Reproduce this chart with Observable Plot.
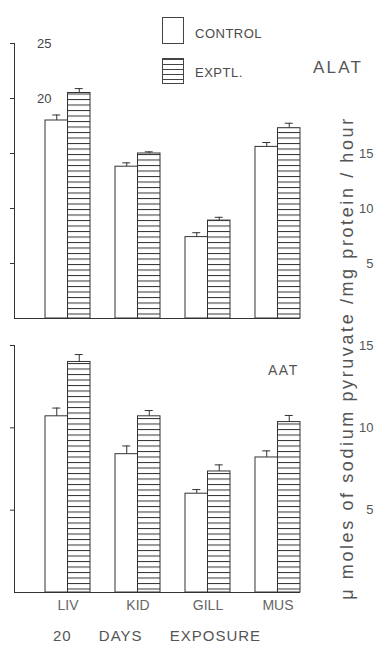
<!DOCTYPE html>
<html><head><meta charset="utf-8">
<script src="https://cdn.jsdelivr.net/npm/d3@7"></script>
<script src="https://cdn.jsdelivr.net/npm/@observablehq/plot@0.6"></script>
<style>
body{margin:0;background:#fff;}
#c{position:relative;width:374px;height:652px;overflow:hidden;font-family:"Liberation Sans",Arial,sans-serif;color:#4a4a4a;}
.abs{position:absolute;white-space:nowrap;line-height:1;}
.sw{position:absolute;box-sizing:border-box;border:1px solid #444;}
</style></head><body><div id="c"></div>
<script>
// ---- data ----
const tissues = ["LIV", "KID", "GILL", "MUS"];
const groups = ["CONTROL", "EXPTL."];
// ALAT panel
const alatControl    = [18.0, 13.8, 7.4, 15.6];
const alatControlErr = [0.5, 0.35, 0.4, 0.4];
const alatExptl      = [20.5, 15.0, 8.9, 17.3];
const alatExptlErr   = [0.4, 0.15, 0.3, 0.45];
// AAT panel
const aatControl     = [10.7, 8.4, 6.0, 8.2];
const aatControlErr  = [0.5, 0.5, 0.25, 0.4];
const aatExptl       = [14.0, 10.7, 7.35, 10.35];
const aatExptlErr    = [0.45, 0.35, 0.4, 0.4];
// tick labels
const alatLeftLabels  = [20, 25];
const alatTicks       = [5, 10, 15, 20, 25];
const alatRightLabels = [5, 10, 15];
const aatTicks        = [5, 10, 15];
const aatRightLabels  = [5, 10, 15];

function rows(vals, errs) {
  return tissues.map((t, i) => ({tissue: t, value: vals[i], err: errs[i], top: vals[i] + errs[i]}));
}

const W = 374, ML = 14, MR = 43, PI = 0.357, PO = 0.443;
const STEP = (W - ML - MR) / (tissues.length - PI + 2 * PO);
const BW = STEP * (1 - PI);
const INK = "#333";

function panel({ctrl, exp, yDomain, height, marginTop, marginBottom, ticks, rightLabels, leftLabels, showX, hatchId}) {
  const marks = [
    Plot.frame({anchor: "left", stroke: INK}),
    Plot.axisY({anchor: "left", ticks, tickSize: 4, tickFormat: () => "", stroke: INK, label: null}),
    Plot.axisY({anchor: "right", ticks: rightLabels, tickSize: 0, tickPadding: 42, textAnchor: "end", fontSize: 13, fill: "#555", label: null}),
    Plot.ruleY([0], {insetRight: 31, stroke: INK}),
    Plot.ruleX(ctrl, {x: "tissue", y1: "value", y2: "top", dx: -BW / 4, stroke: INK}),
    Plot.ruleX(exp, {x: "tissue", y1: "value", y2: "top", dx: BW / 4, stroke: INK}),
    Plot.tickY(ctrl, {x: "tissue", y: "top", insetLeft: BW / 4 - 4, insetRight: BW * 3 / 4 - 4, stroke: INK}),
    Plot.tickY(exp, {x: "tissue", y: "top", insetLeft: BW * 3 / 4 - 4, insetRight: BW / 4 - 4, stroke: INK}),
    Plot.barY(ctrl, {x: "tissue", y: "value", fill: "white", stroke: INK, insetRight: BW / 2}),
    Plot.barY(exp, {x: "tissue", y: "value", fill: `url(#${hatchId})`, stroke: INK, insetLeft: BW / 2})
  ];
  if (leftLabels) marks.push(Plot.axisY({anchor: "left", ticks: leftLabels, tickSize: 0, tickPadding: -37, textAnchor: "end", fontSize: 13, fill: "#444", label: null}));
  if (showX) marks.push(Plot.axisX({anchor: "bottom", tickSize: 0, tickPadding: 8, fontSize: 14, fill: "#666", label: null}));
  const svg = Plot.plot({
    width: W, height, marginLeft: ML, marginRight: MR, marginTop, marginBottom,
    x: {type: "band", domain: tissues, paddingInner: PI, paddingOuter: PO, round: false, axis: null, label: null},
    y: {domain: yDomain, axis: null, label: null},
    style: {fontFamily: "Liberation Sans, Arial, sans-serif", background: "transparent", color: "#444"},
    marks
  });
  d3.select(svg).insert("defs", ":first-child").html(
    `<pattern id="${hatchId}" patternUnits="userSpaceOnUse" width="10" height="5.5">` +
    `<rect width="10" height="5.5" fill="white"/>` +
    `<line x1="0" x2="10" y1="0.5" y2="0.5" stroke="#333" stroke-width="1"/></pattern>`);
  return svg;
}

const c = document.getElementById("c");
function place(el, top) { el.style.position = "absolute"; el.style.left = "0px"; el.style.top = top + "px"; c.appendChild(el); }

place(panel({ctrl: rows(alatControl, alatControlErr), exp: rows(alatExptl, alatExptlErr),
  yDomain: [0, 25], height: 330, marginTop: 43, marginBottom: 12,
  ticks: alatTicks, rightLabels: alatRightLabels, leftLabels: alatLeftLabels, showX: false, hatchId: "hatchA"}), 0);
place(panel({ctrl: rows(aatControl, aatControlErr), exp: rows(aatExptl, aatExptlErr),
  yDomain: [0, 15], height: 300, marginTop: 15, marginBottom: 38,
  ticks: aatTicks, rightLabels: aatRightLabels, leftLabels: null, showX: true, hatchId: "hatchB"}), 330);

function text(str, left, top, size, extra = {}) {
  const d = document.createElement("div");
  d.className = "abs"; d.textContent = str;
  d.style.left = left + "px"; d.style.top = top + "px"; d.style.fontSize = size + "px";
  Object.assign(d.style, extra);
  c.appendChild(d); return d;
}
function swatch(left, top, w, h, hatched) {
  const d = document.createElement("div");
  d.className = "sw";
  Object.assign(d.style, {left: left + "px", top: top + "px", width: w + "px", height: h + "px",
    background: hatched ? "repeating-linear-gradient(to bottom, #444 0 1px, #fff 1px 5px)" : "#fff"});
  c.appendChild(d);
}
// legend
swatch(162, 17, 22, 27, false);
swatch(162, 58, 22, 26, true);
text(groups[0], 195, 27, 13, {letterSpacing: "0.5px"});
text(groups[1], 195, 66, 13, {letterSpacing: "0.5px"});
// panel titles
text("ALAT", 313, 59, 17, {letterSpacing: "2.2px", color: "#555"});
text("AAT", 268, 363, 14, {letterSpacing: "1.5px", color: "#555"});
// caption
text("20 DAYS EXPOSURE", 53, 628, 15, {letterSpacing: "1px", wordSpacing: "22px", color: "#555"});
// rotated y label (right side)
text("\u03BC moles of sodium pyruvate /mg protein / hour", 347, 358, 18,
  {transform: "translate(-50%,-50%) rotate(-90deg)", letterSpacing: "2.6px", color: "#555"});
</script>
</body></html>
